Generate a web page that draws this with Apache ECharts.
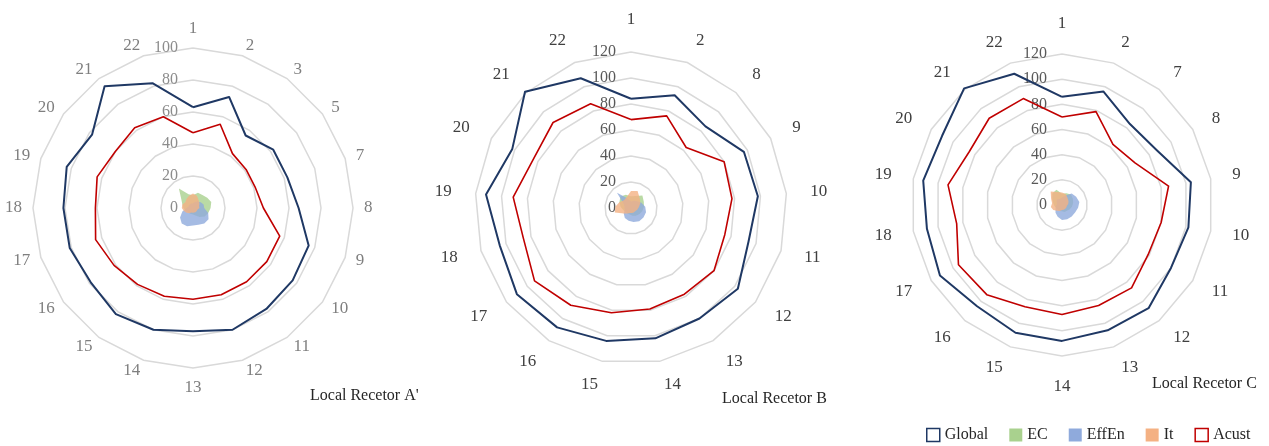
<!DOCTYPE html>
<html>
<head>
<meta charset="utf-8">
<script src="https://cdn.jsdelivr.net/npm/echarts@6/dist/echarts.min.js"></script>
<style>
  html, body { margin: 0; padding: 0; background: #fff; }
  #radar { width: 1269px; height: 446px; }
</style>
</head>
<body>
<div id="radar"></div>
<script>
// receptor A
const catsA = ["1", "2", "3", "5", "7", "8", "9", "10", "11", "12", "13", "14", "15", "16", "17", "18", "19", "20", "21", "22"];
const globalA = [63, 73, 56, 62, 62, 66, 76, 77, 78, 80, 77, 80, 82, 79, 81, 81, 83, 78, 94, 82];
const ecA = [8, 10, 10, 11, 12, 11, 10, 9, 7, 5, 4, 4, 4, 4, 5, 6, 7, 9, 15, 9];
const effA = [3, 4, 5, 6, 7, 7, 10, 12, 12, 11, 11, 12, 12, 10, 7, 4, 3, 3, 3, 3];
const itA = [9, 8, 6, 5, 4, 4, 3, 3, 3, 3, 3, 3, 4, 5, 6, 7, 7, 6, 7, 8];
const acustA = [47, 55, 42, 41, 41, 44, 57, 57, 57, 57, 57, 58, 59, 61, 64, 61, 63, 60, 62, 60];

// receptor B
const catsB = ["1", "2", "8", "9", "10", "11", "12", "13", "14", "15", "16", "17", "18", "19", "20", "21", "22"];
const globalB = [84, 93, 85, 97, 98, 94, 103, 100, 102, 104, 108, 110, 105, 112, 102, 121, 107];
const ecB = [9, 10, 13, 11, 10, 9, 8, 7, 6, 5, 5, 5, 6, 8, 10, 12, 11];
const effB = [5, 6, 7, 9, 11, 12, 12, 12, 11, 10, 9, 7, 5, 5, 6, 16, 8];
const itB = [13, 14, 10, 8, 6, 5, 4, 4, 4, 4, 5, 7, 13, 12, 10, 8, 9];
const acustB = [68, 76, 63, 80, 78, 75, 80, 78, 79, 82, 88, 93, 86, 91, 84, 89, 86];

// receptor C
const catsC = ["1", "2", "7", "8", "9", "10", "11", "12", "13", "14", "15", "16", "17", "18", "19", "20", "21", "22"];
const globalC = [86, 96, 84, 87, 104, 102, 100, 107, 106, 108, 108, 105, 112, 109, 112, 110, 121, 111];
const ecC = [9, 10, 11, 10, 9, 8, 7, 6, 6, 5, 5, 5, 5, 6, 7, 9, 12, 13];
const effC = [6, 8, 12, 13, 14, 13, 12, 12, 12, 12, 10, 8, 6, 5, 4, 5, 6, 5];
const itC = [10, 9, 7, 6, 5, 4, 4, 4, 4, 4, 5, 6, 8, 9, 8, 10, 14, 11];
const acustC = [70, 79, 63, 67, 86, 80, 79, 86, 85, 87, 86, 93, 95, 85, 92, 85, 90, 90];

const ticksA = [0, 20, 40, 60, 80, 100];
const ticksBC = [0, 20, 40, 60, 80, 100, 120];

const titles = ["Local Recetor A'", "Local Recetor B", "Local Recetor C"];
const legendNames = ["Global", "EC", "EffEn", "It", "Acust"];

const colors = {
  Global: "#1F3864",
  EC: "#A9D18E",
  EffEn: "#8FAADC",
  It: "#F4B183",
  Acust: "#C00000",
};

const serif = "Liberation Serif";

// echarts lays radar axes out counter-clockwise, the source goes clockwise
function cw(arr) {
  return [arr[0]].concat(arr.slice(1).reverse());
}

function makeRadar(cats, ticks, center, radius, nameGap, nameColor, tickColor) {
  let max = ticks[ticks.length - 1];
  return {
    center: center,
    radius: radius,
    startAngle: 90,
    shape: "polygon",
    splitNumber: ticks.length - 1,
    nameGap: nameGap,
    axisName: { color: nameColor, fontSize: 17, fontFamily: serif },
    axisLine: { show: false },
    axisTick: { show: false },
    axisLabel: { show: false, color: tickColor, fontSize: 16, fontFamily: serif, margin: 15 },
    splitLine: { lineStyle: { color: "#D9D9D9", width: 1.5 } },
    splitArea: { show: false },
    indicator: cw(cats).map((c, i) => {
      let ind = { name: c, min: ticks[0], max: max };
      if (i === 0) ind.axisLabel = { show: true };
      return ind;
    }),
  };
}

function fillItem(name, values) {
  return {
    name: name,
    value: cw(values),
    symbol: "none",
    itemStyle: { color: colors[name] },
    lineStyle: { width: 0 },
    areaStyle: { color: colors[name], opacity: 0.8 },
  };
}

function lineItem(name, values, width) {
  return {
    name: name,
    value: cw(values),
    symbol: "none",
    itemStyle: { color: colors[name] },
    lineStyle: { color: colors[name], width: width },
  };
}

function makeSeries(idx, g, ec, eff, it, ac) {
  return {
    type: "radar",
    radarIndex: idx,
    silent: true,
    data: [
      fillItem("EC", ec),
      fillItem("EffEn", eff),
      fillItem("It", it),
      lineItem("Global", g, 2),
      lineItem("Acust", ac, 1.6),
    ],
  };
}

let chart = echarts.init(document.getElementById("radar"));

let option = {
  animation: false,
  title: [
    { text: titles[0], left: 310, top: 388 },
    { text: titles[1], left: 722, top: 391 },
    { text: titles[2], left: 1152, top: 376 },
  ].map((t) => Object.assign(t, {
    textStyle: { color: "#262626", fontSize: 16, fontWeight: "normal", fontFamily: serif },
    padding: 0,
  })),
  legend: {
    left: 921,
    top: 422,
    itemWidth: 13,
    itemHeight: 13,
    itemGap: 21,
    icon: "rect",
    textStyle: { color: "#262626", fontSize: 16, fontFamily: serif },
    data: legendNames.map((n) => {
      if (n === "Global" || n === "Acust") {
        return { name: n, itemStyle: { color: "#fff", borderColor: colors[n], borderWidth: 1.5 } };
      }
      return { name: n, itemStyle: { color: colors[n], borderWidth: 0 } };
    }),
  },
  radar: [
    makeRadar(catsA, ticksA, [193, 208], 160, 11, "#7F7F7F", "#8C8C8C"),
    makeRadar(catsB, ticksBC, [631, 208], 156, 24, "#404040", "#595959"),
    makeRadar(catsC, ticksBC, [1062, 205], 151, 22, "#404040", "#595959"),
  ],
  series: [
    makeSeries(0, globalA, ecA, effA, itA, acustA),
    makeSeries(1, globalB, ecB, effB, itB, acustB),
    makeSeries(2, globalC, ecC, effC, itC, acustC),
  ],
};

chart.setOption(option);
</script>
</body>
</html>
